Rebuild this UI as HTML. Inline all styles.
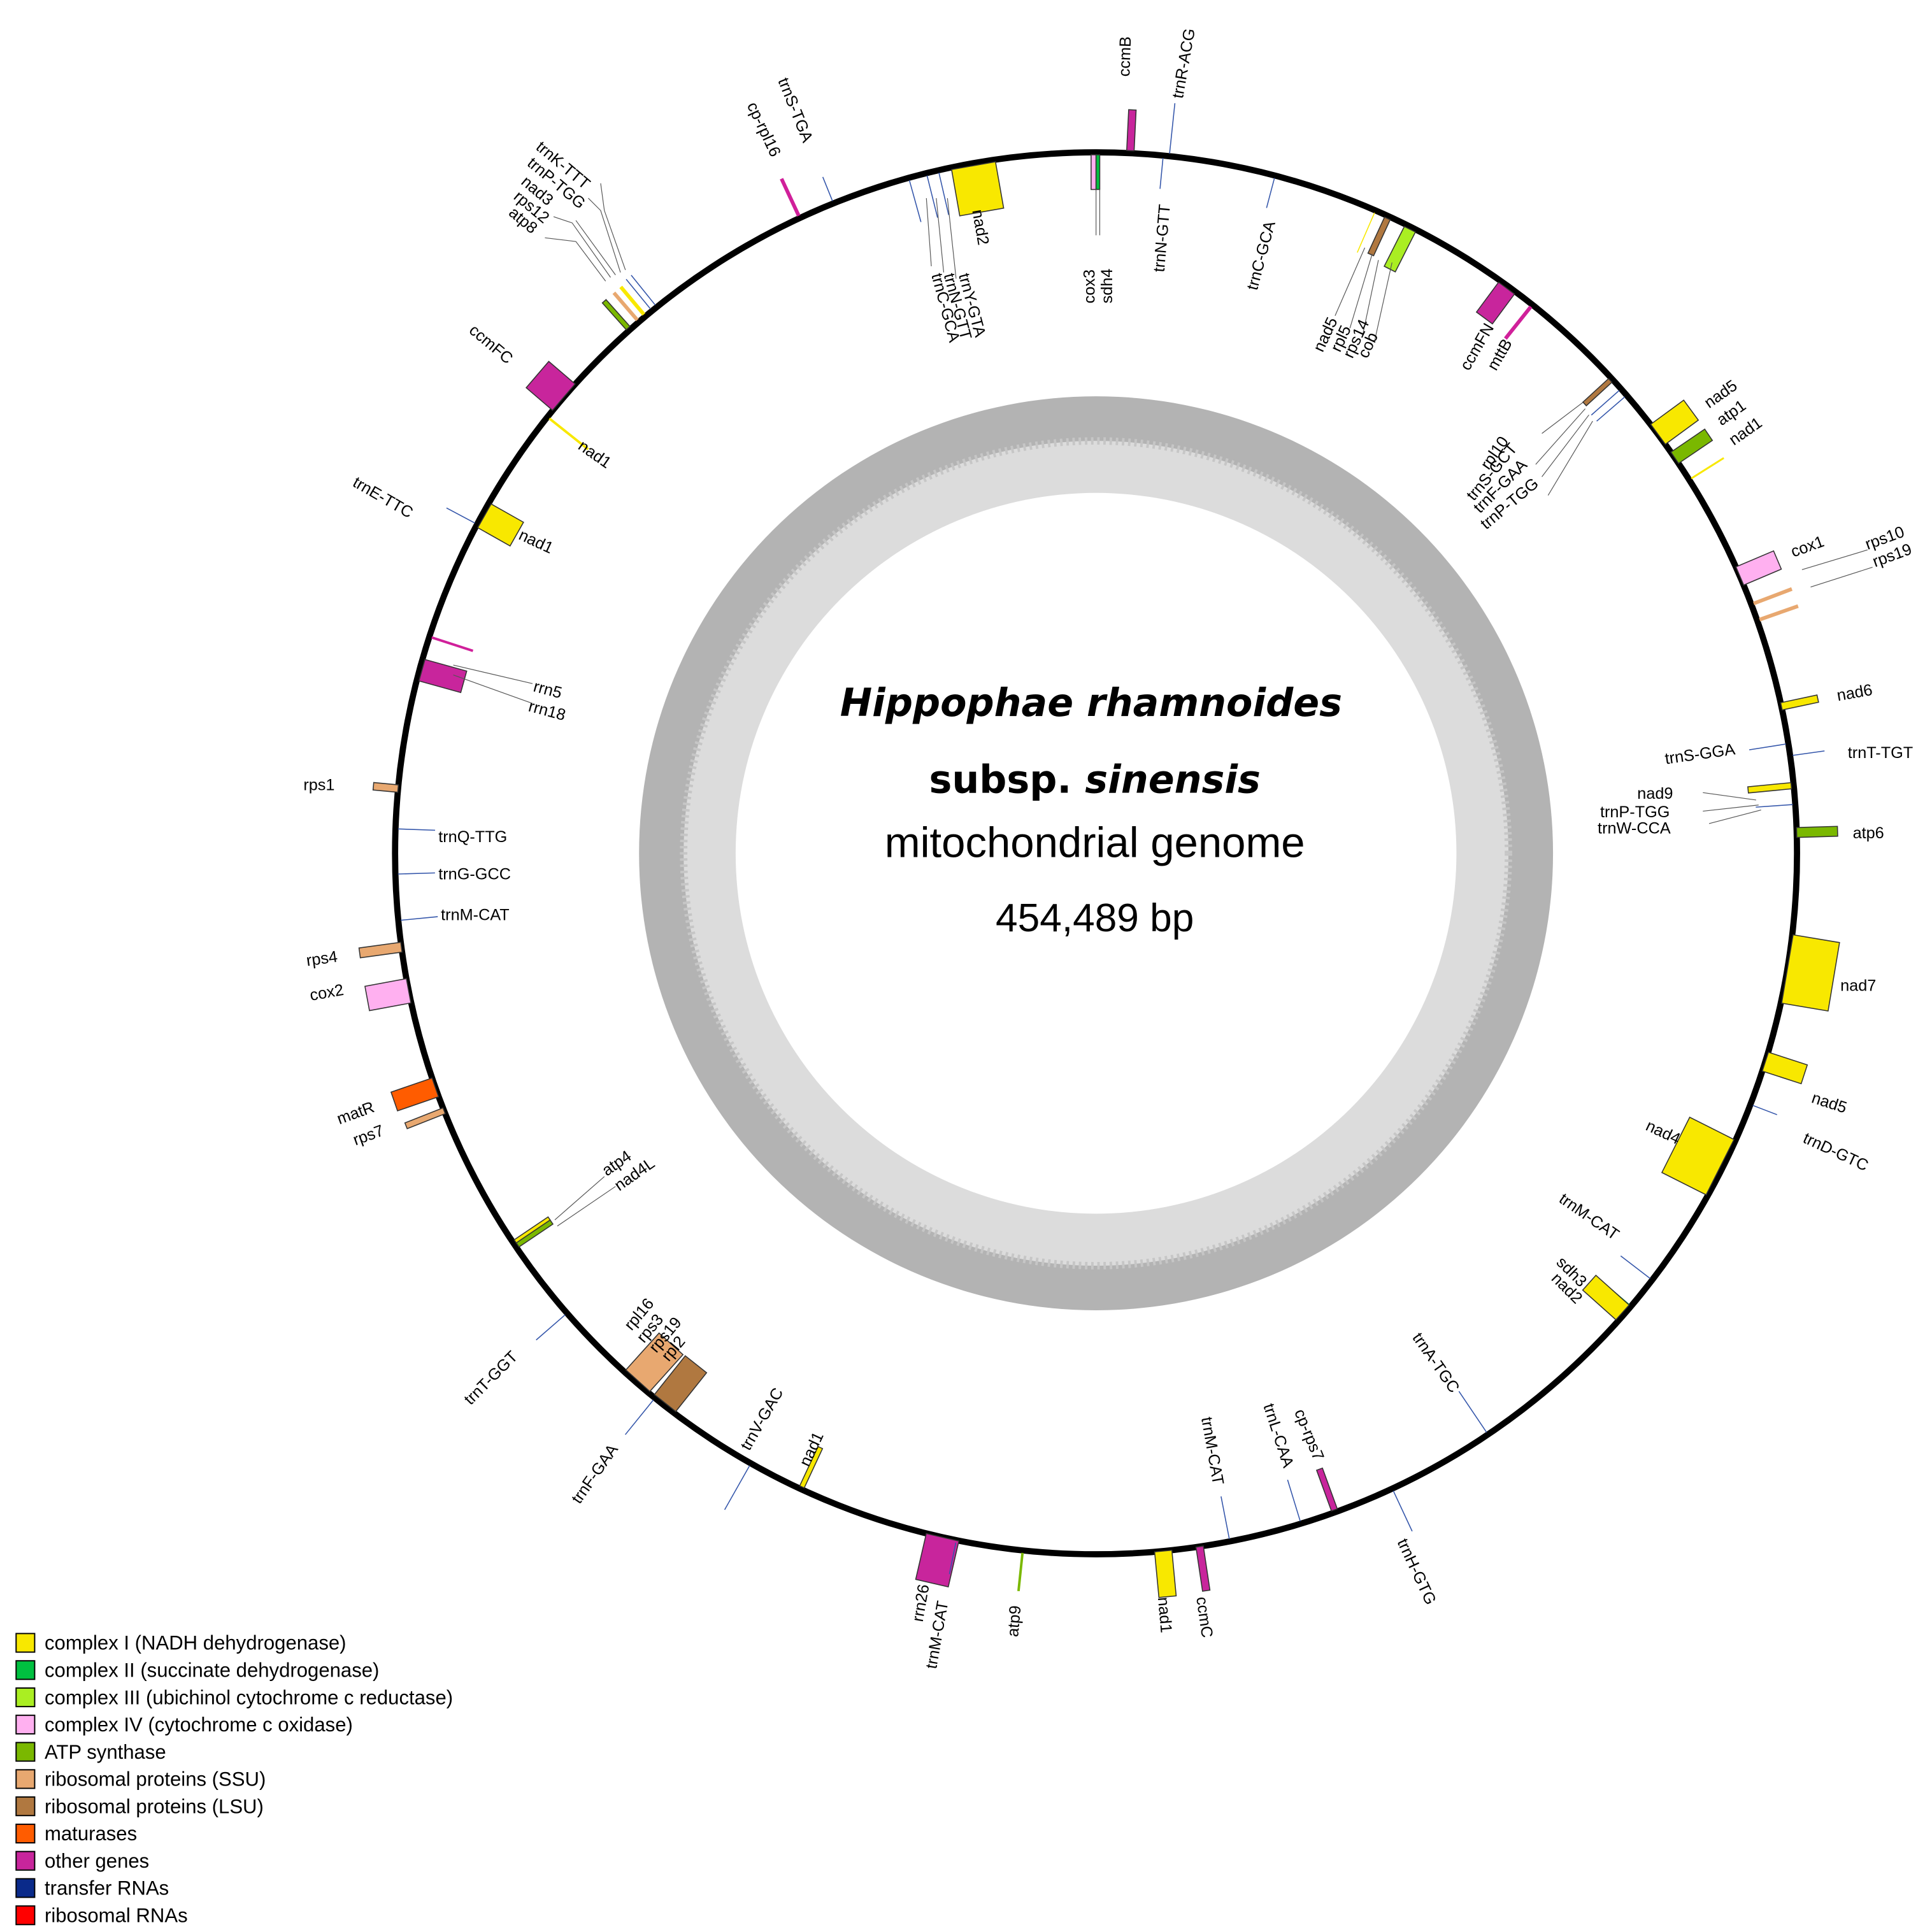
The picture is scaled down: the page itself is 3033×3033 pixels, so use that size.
<!DOCTYPE html>
<html><head><meta charset="utf-8"><style>html,body{margin:0;padding:0;background:#fff}svg{display:block}text{font-family:"Liberation Sans",sans-serif}</style></head>
<body>
<svg width="3033" height="3033" viewBox="0 0 1560 1560" xmlns="http://www.w3.org/2000/svg">
<rect width="1560" height="1560" fill="#fff"/>
<circle cx="885" cy="689" r="369" fill="#b3b3b3"/>
<circle cx="885" cy="689" r="333" fill="#dcdcdc" stroke="#c6c6c6" stroke-width="6" stroke-dasharray="2 3"/>
<circle cx="885" cy="689" r="291" fill="#fff"/>
<circle cx="885" cy="689" r="566" fill="none" stroke="#000" stroke-width="5"/>
<g stroke="#333" stroke-width="0.8">
<g transform="rotate(2.8 885 689)"><rect x="882" y="88" width="6" height="33" fill="#c8259c"/></g>
<g transform="rotate(6 885 689)"><line x1="885" y1="121" x2="885" y2="80" stroke="#3355aa"/></g>
<g transform="rotate(-22 885 689)"><line x1="885" y1="121" x2="885" y2="100" stroke="#3355aa"/></g>
<g transform="rotate(-25 885 689)"><line x1="885" y1="121" x2="885" y2="88" stroke="#d0209a" stroke-width="3"/></g>
<g transform="rotate(-38.8 885 689)"><line x1="885" y1="121" x2="885" y2="90" stroke="#3355aa"/></g>
<g transform="rotate(-39.3 885 689)"><line x1="885" y1="121" x2="885" y2="90" stroke="#3355aa"/></g>
<g transform="rotate(-40 885 689)"><line x1="885" y1="121" x2="885" y2="92" stroke="#f8e800" stroke-width="3"/></g>
<g transform="rotate(-40.7 885 689)"><line x1="885" y1="121" x2="885" y2="92" stroke="#e8a870" stroke-width="3"/></g>
<g transform="rotate(-41.7 885 689)"><rect x="883" y="92" width="4" height="29" fill="#7ab800"/></g>
<g transform="rotate(-49.4 885 689)"><rect x="871" y="95" width="28" height="28" fill="#c8259c"/></g>
<g transform="rotate(-62 885 689)"><line x1="885" y1="121" x2="885" y2="95" stroke="#3355aa"/></g>
<g transform="rotate(-84.7 885 689)"><rect x="882" y="103" width="6" height="20" fill="#e8a870"/></g>
<g transform="rotate(-97.7 885 689)"><rect x="881" y="89" width="8" height="34" fill="#e8a870"/></g>
<g transform="rotate(-100.5 885 689)"><rect x="867" y="89" width="20" height="34" fill="#ffb0f0"/></g>
<g transform="rotate(-109 885 689)"><rect x="872" y="88" width="16" height="35" fill="#ff5c00"/></g>
<g transform="rotate(-111.5 885 689)"><rect x="882" y="90" width="5" height="33" fill="#e8a870"/></g>
<g transform="rotate(-131 885 689)"><line x1="885" y1="121" x2="885" y2="90" stroke="#3355aa"/></g>
<g transform="rotate(-141 885 689)"><line x1="885" y1="121" x2="885" y2="85" stroke="#3355aa"/></g>
<g transform="rotate(-150.5 885 689)"><line x1="885" y1="121" x2="885" y2="80" stroke="#3355aa"/></g>
<g transform="rotate(-167 885 689)"><rect x="868" y="85" width="27" height="38" fill="#c8259c"/></g>
<g transform="rotate(-168.5 885 689)"><line x1="885" y1="121" x2="885" y2="95" stroke="#3355aa"/></g>
<g transform="rotate(-174 885 689)"><line x1="885" y1="121" x2="885" y2="90" stroke="#7ab800" stroke-width="2"/></g>
<g transform="rotate(174.6 885 689)"><rect x="877" y="86" width="14" height="37" fill="#f8e800"/></g>
<g transform="rotate(171.5 885 689)"><rect x="882" y="87" width="6" height="36" fill="#c8259c"/></g>
<g transform="rotate(155 885 689)"><line x1="885" y1="121" x2="885" y2="85" stroke="#3355aa"/></g>
<g transform="rotate(111 885 689)"><line x1="885" y1="121" x2="885" y2="100" stroke="#3355aa"/></g>
<g transform="rotate(108 885 689)"><rect x="870" y="90" width="16" height="33" fill="#f8e800"/></g>
<g transform="rotate(99.5 885 689)"><rect x="857" y="85" width="56" height="38" fill="#f8e800"/></g>
<g transform="rotate(88.3 885 689)"><rect x="881" y="90" width="8" height="33" fill="#7ab800"/></g>
<g transform="rotate(82 885 689)"><line x1="885" y1="121" x2="885" y2="95" stroke="#3355aa"/></g>
<g transform="rotate(78 885 689)"><rect x="881" y="93" width="6" height="30" fill="#f8e800"/></g>
<g transform="rotate(67 885 689)"><rect x="874" y="90" width="16" height="33" fill="#ffb0f0"/></g>
<g transform="rotate(69.2 885 689)"><line x1="885" y1="121" x2="885" y2="88" stroke="#e8a870" stroke-width="3"/></g>
<g transform="rotate(70.6 885 689)"><line x1="885" y1="121" x2="885" y2="88" stroke="#e8a870" stroke-width="3"/></g>
<g transform="rotate(53.8 885 689)"><rect x="870" y="90" width="20" height="33" fill="#f8e800"/></g>
<g transform="rotate(55.8 885 689)"><rect x="878" y="90" width="11" height="33" fill="#7ab800"/></g>
<g transform="rotate(57.8 885 689)"><line x1="885" y1="121" x2="885" y2="90" stroke="#f8e800" stroke-width="1.5"/></g>
<g transform="rotate(0 885 689)"><rect x="881" y="125" width="4" height="28" fill="#ffb0f0"/><rect x="885" y="125" width="3" height="28" fill="#00c040"/></g>
<g transform="rotate(5.5 885 689)"><line x1="885" y1="125" x2="885" y2="150" stroke="#3355aa"/></g>
<g transform="rotate(14.8 885 689)"><line x1="885" y1="125" x2="885" y2="150" stroke="#3355aa"/></g>
<g transform="rotate(-10 885 689)"><rect x="866" y="125" width="36" height="38" fill="#f8e800"/></g>
<g transform="rotate(-13 885 689)"><line x1="885" y1="125" x2="885" y2="160" stroke="#3355aa"/></g>
<g transform="rotate(-14 885 689)"><line x1="885" y1="125" x2="885" y2="160" stroke="#3355aa"/></g>
<g transform="rotate(-15.5 885 689)"><line x1="885" y1="125" x2="885" y2="160" stroke="#3355aa"/></g>
<g transform="rotate(-51.5 885 689)"><line x1="885" y1="125" x2="885" y2="165" stroke="#f8e800" stroke-width="2"/></g>
<g transform="rotate(-60.5 885 689)"><rect x="868" y="125" width="22" height="30" fill="#f8e800"/></g>
<g transform="rotate(-72 885 689)"><line x1="885" y1="125" x2="885" y2="160" stroke="#d0209a" stroke-width="2"/></g>
<g transform="rotate(-74.5 885 689)"><rect x="873" y="125" width="18" height="35" fill="#c8259c"/></g>
<g transform="rotate(-88 885 689)"><line x1="885" y1="125" x2="885" y2="155" stroke="#3355aa"/></g>
<g transform="rotate(-91.7 885 689)"><line x1="885" y1="125" x2="885" y2="155" stroke="#3355aa"/></g>
<g transform="rotate(-95.5 885 689)"><line x1="885" y1="125" x2="885" y2="155" stroke="#3355aa"/></g>
<g transform="rotate(-124 885 689)"><rect x="882" y="125" width="5" height="33" fill="#7ab800"/><rect x="886" y="125" width="3" height="33" fill="#f8e800"/></g>
<g transform="rotate(-138 885 689)"><rect x="862" y="125" width="26" height="40" fill="#e8a870"/></g>
<g transform="rotate(-141.5 885 689)"><rect x="870" y="125" width="22" height="40" fill="#b07840"/></g>
<g transform="rotate(-155 885 689)"><rect x="882" y="125" width="4" height="35" fill="#f8e800"/></g>
<g transform="rotate(169 885 689)"><line x1="885" y1="125" x2="885" y2="160" stroke="#3355aa"/></g>
<g transform="rotate(163 885 689)"><line x1="885" y1="125" x2="885" y2="160" stroke="#3355aa"/></g>
<g transform="rotate(160 885 689)"><rect x="883" y="125" width="5" height="35" fill="#c8259c"/></g>
<g transform="rotate(146 885 689)"><line x1="885" y1="125" x2="885" y2="165" stroke="#3355aa"/></g>
<g transform="rotate(127.5 885 689)"><line x1="885" y1="125" x2="885" y2="155" stroke="#3355aa"/></g>
<g transform="rotate(130.3 885 689)"><line x1="885" y1="125" x2="885" y2="160" stroke="#00c040" stroke-width="2"/></g>
<g transform="rotate(131.8 885 689)"><rect x="870" y="125" width="16" height="36" fill="#f8e800"/></g>
<g transform="rotate(116.7 885 689)"><rect x="860" y="125" width="50" height="40" fill="#f8e800"/></g>
<g transform="rotate(81 885 689)"><line x1="885" y1="125" x2="885" y2="155" stroke="#3355aa"/></g>
<g transform="rotate(84.5 885 689)"><rect x="882" y="125" width="5" height="35" fill="#f8e800"/></g>
<g transform="rotate(86 885 689)"><line x1="885" y1="125" x2="885" y2="155" stroke="#3355aa"/></g>
<g transform="rotate(47.5 885 689)"><rect x="882" y="125" width="4" height="28" fill="#b07840"/></g>
<g transform="rotate(48.5 885 689)"><line x1="885" y1="125" x2="885" y2="155" stroke="#3355aa"/></g>
<g transform="rotate(49.2 885 689)"><line x1="885" y1="125" x2="885" y2="155" stroke="#3355aa"/></g>
<g transform="rotate(36.5 885 689)"><rect x="872" y="125" width="16" height="30" fill="#c8259c"/></g>
<g transform="rotate(38.5 885 689)"><line x1="885" y1="125" x2="885" y2="158" stroke="#d0209a" stroke-width="3"/></g>
<g transform="rotate(23.5 885 689)"><line x1="885" y1="125" x2="885" y2="160" stroke="#f8e800"/></g>
<g transform="rotate(24.7 885 689)"><rect x="882" y="125" width="5" height="32" fill="#b07840"/></g>
<g transform="rotate(26.8 885 689)"><rect x="879" y="125" width="10" height="36" fill="#aaee22"/></g>
</g>
<g stroke="#555" stroke-width="0.6" fill="none">
<path d="M885 153 V190 M888 153 V190"/>
<path d="M748 160 L752 215 M756 160 L762 220 M765 160 L772 225"/>
<path d="M505 218 L488 170 L485 148 M501 220 L485 170 L475 160 M497 222 L465 178 M493 224 L462 180 L447 175 M489 227 L465 195 L440 192"/>
<path d="M366 537 L430 552 M366 545 L430 568"/>
<path d="M448 985 L488 950 M450 990 L497 958"/>
<path d="M1102 200 L1078 255 M1108 205 L1090 265 M1113 210 L1100 272 M1124 212 L1110 275"/>
<path d="M1278 325 L1245 350 M1280 330 L1240 375 M1283 335 L1245 385 M1286 340 L1250 400"/>
<path d="M1455 460 L1508 444 M1462 474 L1512 458"/>
<path d="M1418 646 L1375 640 M1420 650 L1375 655 M1422 654 L1380 665"/>
</g>
<g font-size="13" fill="#000">
<text x="912" y="62" transform="rotate(-88 912 62)">ccmB</text>
<text x="955" y="80" transform="rotate(-80 955 80)">trnR-ACG</text>
<text x="884" y="245" transform="rotate(-90 884 245)">cox3</text>
<text x="898" y="245" transform="rotate(-90 898 245)">sdh4</text>
<text x="940" y="220" transform="rotate(-85 940 220)">trnN-GTT</text>
<text x="1015" y="235" transform="rotate(-75 1015 235)">trnC-GCA</text>
<text x="785" y="170" transform="rotate(80 785 170)">nad2</text>
<text x="752" y="222" transform="rotate(75 752 222)">trnC-GCA</text>
<text x="762" y="222" transform="rotate(75 762 222)">trnN-GTT</text>
<text x="774" y="222" transform="rotate(75 774 222)">trnY-GTA</text>
<text x="628" y="65" transform="rotate(68 628 65)">trnS-TGA</text>
<text x="603" y="85" transform="rotate(65 603 85)">cp-rpl16</text>
<text x="432" y="120" transform="rotate(40 432 120)">trnK-TTT</text>
<text x="425" y="133" transform="rotate(40 425 133)">trnP-TGG</text>
<text x="420" y="148" transform="rotate(40 420 148)">nad3</text>
<text x="414" y="160" transform="rotate(40 414 160)">rps12</text>
<text x="410" y="173" transform="rotate(40 410 173)">atp8</text>
<text x="378" y="268" transform="rotate(40 378 268)">ccmFC</text>
<text x="466" y="362" transform="rotate(35 466 362)">nad1</text>
<text x="418" y="435" transform="rotate(25 418 435)">nad1</text>
<text x="284" y="392" transform="rotate(30 284 392)">trnE-TTC</text>
<text x="430" y="558" transform="rotate(15 430 558)">rrn5</text>
<text x="426" y="574" transform="rotate(15 426 574)">rrn18</text>
<text x="245" y="638">rps1</text>
<text x="354" y="680">trnQ-TTG</text>
<text x="354" y="710">trnG-GCC</text>
<text x="356" y="743">trnM-CAT</text>
<text x="248" y="780" transform="rotate(-8 248 780)">rps4</text>
<text x="251" y="808" transform="rotate(-10 251 808)">cox2</text>
<text x="274" y="908" transform="rotate(-20 274 908)">matR</text>
<text x="287" y="925" transform="rotate(-20 287 925)">rps7</text>
<text x="490" y="950" transform="rotate(-35 490 950)">atp4</text>
<text x="500" y="962" transform="rotate(-35 500 962)">nad4L</text>
<text x="380" y="1135" transform="rotate(-45 380 1135)">trnT-GGT</text>
<text x="510" y="1075" transform="rotate(-50 510 1075)">rpl16</text>
<text x="520" y="1085" transform="rotate(-50 520 1085)">rps3</text>
<text x="530" y="1093" transform="rotate(-50 530 1093)">rps19</text>
<text x="540" y="1100" transform="rotate(-50 540 1100)">rpl2</text>
<text x="468" y="1215" transform="rotate(-55 468 1215)">trnF-GAA</text>
<text x="605" y="1172" transform="rotate(-60 605 1172)">trnV-GAC</text>
<text x="653" y="1185" transform="rotate(-65 653 1185)">nad1</text>
<text x="745" y="1310" transform="rotate(-80 745 1310)">rrn26</text>
<text x="756" y="1348" transform="rotate(-80 756 1348)">trnM-CAT</text>
<text x="822" y="1322" transform="rotate(-85 822 1322)">atp9</text>
<text x="935" y="1290" transform="rotate(85 935 1290)">nad1</text>
<text x="966" y="1290" transform="rotate(82 966 1290)">ccmC</text>
<text x="970" y="1145" transform="rotate(80 970 1145)">trnM-CAT</text>
<text x="1020" y="1135" transform="rotate(72 1020 1135)">trnL-CAA</text>
<text x="1045" y="1140" transform="rotate(68 1045 1140)">cp-rps7</text>
<text x="1128" y="1245" transform="rotate(65 1128 1245)">trnH-GTG</text>
<text x="1140" y="1080" transform="rotate(55 1140 1080)">trnA-TGC</text>
<text x="1256" y="1020" transform="rotate(45 1256 1020)">sdh3</text>
<text x="1252" y="1033" transform="rotate(45 1252 1033)">nad2</text>
<text x="1258" y="970" transform="rotate(35 1258 970)">trnM-CAT</text>
<text x="1328" y="912" transform="rotate(25 1328 912)">nad4</text>
<text x="1455" y="922" transform="rotate(25 1455 922)">trnD-GTC</text>
<text x="1462" y="890" transform="rotate(18 1462 890)">nad5</text>
<text x="1486" y="800">nad7</text>
<text x="1496" y="677">atp6</text>
<text x="1492" y="612">trnT-TGT</text>
<text x="1345" y="617" transform="rotate(-8 1345 617)">trnS-GGA</text>
<text x="1322" y="645">nad9</text>
<text x="1292" y="660">trnP-TGG</text>
<text x="1290" y="673">trnW-CCA</text>
<text x="1484" y="566" transform="rotate(-10 1484 566)">nad6</text>
<text x="1448" y="450" transform="rotate(-20 1448 450)">cox1</text>
<text x="1508" y="444" transform="rotate(-20 1508 444)">rps10</text>
<text x="1514" y="458" transform="rotate(-20 1514 458)">rps19</text>
<text x="1380" y="330" transform="rotate(-35 1380 330)">nad5</text>
<text x="1390" y="344" transform="rotate(-35 1390 344)">atp1</text>
<text x="1400" y="360" transform="rotate(-35 1400 360)">nad1</text>
<text x="1202" y="380" transform="rotate(-55 1202 380)">rpl10</text>
<text x="1190" y="405" transform="rotate(-50 1190 405)">trnS-GCT</text>
<text x="1195" y="415" transform="rotate(-45 1195 415)">trnF-GAA</text>
<text x="1200" y="428" transform="rotate(-40 1200 428)">trnP-TGG</text>
<text x="1186" y="300" transform="rotate(-60 1186 300)">ccmFN</text>
<text x="1208" y="300" transform="rotate(-60 1208 300)">mttB</text>
<text x="1068" y="285" transform="rotate(-65 1068 285)">nad5</text>
<text x="1082" y="285" transform="rotate(-65 1082 285)">rpl5</text>
<text x="1092" y="290" transform="rotate(-65 1092 290)">rps14</text>
<text x="1104" y="290" transform="rotate(-65 1104 290)">cob</text>
</g>
<g text-anchor="middle" fill="#000">
<text x="881" y="578" font-size="31" style="font-family:'DejaVu Sans',sans-serif;font-weight:bold;font-style:oblique">Hippophae rhamnoides</text>
<text x="884" y="640" font-size="31" style="font-family:'DejaVu Sans',sans-serif;font-weight:bold">subsp. <tspan style="font-style:oblique">sinensis</tspan></text>
<text x="884" y="692" font-size="34.5">mitochondrial genome</text>
<text x="884" y="752" font-size="32">454,489 bp</text>
</g>
<g font-size="16" stroke="#000" stroke-width="1">
<rect x="13" y="1319" width="15" height="15" fill="#f8e800"/>
<rect x="13" y="1341" width="15" height="15" fill="#00c040"/>
<rect x="13" y="1363" width="15" height="15" fill="#aaee22"/>
<rect x="13" y="1385" width="15" height="15" fill="#ffb0f0"/>
<rect x="13" y="1407" width="15" height="15" fill="#7ab800"/>
<rect x="13" y="1429" width="15" height="15" fill="#e8a870"/>
<rect x="13" y="1451" width="15" height="15" fill="#b07840"/>
<rect x="13" y="1473" width="15" height="15" fill="#ff5c00"/>
<rect x="13" y="1495" width="15" height="15" fill="#c8259c"/>
<rect x="13" y="1517" width="15" height="15" fill="#0a2a8a"/>
<rect x="13" y="1539" width="15" height="15" fill="#ff0000"/>
</g>
<g font-size="16" fill="#000">
<text x="36" y="1332">complex I (NADH dehydrogenase)</text>
<text x="36" y="1354">complex II (succinate dehydrogenase)</text>
<text x="36" y="1376">complex III (ubichinol cytochrome c reductase)</text>
<text x="36" y="1398">complex IV (cytochrome c oxidase)</text>
<text x="36" y="1420">ATP synthase</text>
<text x="36" y="1442">ribosomal proteins (SSU)</text>
<text x="36" y="1464">ribosomal proteins (LSU)</text>
<text x="36" y="1486">maturases</text>
<text x="36" y="1508">other genes</text>
<text x="36" y="1530">transfer RNAs</text>
<text x="36" y="1552">ribosomal RNAs</text>
</g>
</svg>
</body></html>
